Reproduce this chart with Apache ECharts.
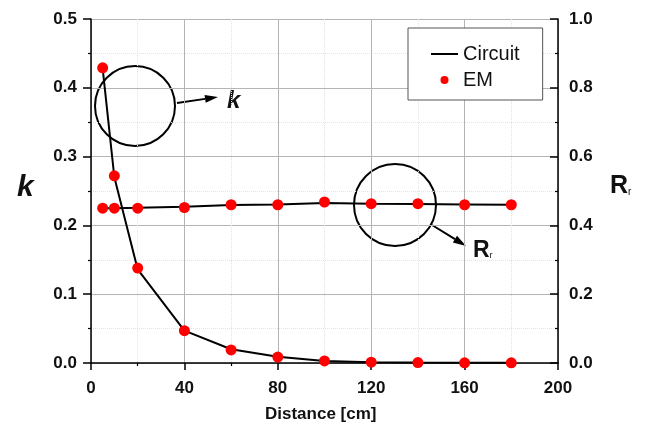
<!DOCTYPE html>
<html>
<head>
<meta charset="utf-8">
<script src="https://cdn.jsdelivr.net/npm/echarts@6/dist/echarts.min.js"></script>
<style>
html, body { margin: 0; padding: 0; background: #fff; }
#chart { width: 645px; height: 432px; }
</style>
</head>
<body>
<div id="chart"></div>
<script>
// distance in cm
var distance = [5, 10, 20, 40, 60, 80, 100, 120, 140, 160, 180];
// coupling coefficient k (left axis)
var kEM = [0.429, 0.272, 0.138, 0.047, 0.019, 0.0087, 0.003, 0.0012, 0.0006, 0.0003, 0.0002];
var kCircuit = [0.428, 0.27, 0.136, 0.047, 0.02, 0.009, 0.003, 0.0012, 0.0006, 0.0003, 0.0002];
// radiation resistance Rr (right axis)
var rrEM = [0.45, 0.45, 0.45, 0.452, 0.46, 0.46, 0.468, 0.463, 0.463, 0.46, 0.46];
var rrCircuit = [0.45, 0.45, 0.451, 0.454, 0.459, 0.461, 0.465, 0.463, 0.462, 0.461, 0.46];

var xTicks = { min: 0, max: 200, step: 40 };
var kTicks = { min: 0, max: 0.5, step: 0.1 };
var rrTicks = { min: 0, max: 1.0, step: 0.2 };

function pairs(xs, ys) {
    var out = [];
    for (var i = 0; i < xs.length; i++) {
        out.push([xs[i], ys[i]]);
    }
    return out;
}

var FONT = '"Liberation Sans", Arial, sans-serif';

function arrow(x1, y1, x2, y2) {
    var ang = Math.atan2(y2 - y1, x2 - x1);
    var len = 13, half = 4;
    var bx = x2 - len * Math.cos(ang), by = y2 - len * Math.sin(ang);
    var px = -Math.sin(ang) * half, py = Math.cos(ang) * half;
    return [
        {
            type: 'line',
            shape: { x1: x1, y1: y1, x2: bx, y2: by },
            style: { stroke: '#000', lineWidth: 2 }
        },
        {
            type: 'polygon',
            shape: { points: [[x2, y2], [bx + px, by + py], [bx - px, by - py]] },
            style: { fill: '#000' }
        }
    ];
}

var myChart = echarts.init(document.getElementById('chart'));

var graphics = [
    { type: 'circle', shape: { cx: 135, cy: 106, r: 40 }, style: { fill: 'none', stroke: '#000', lineWidth: 2 } },
    { type: 'circle', shape: { cx: 395, cy: 205, r: 41 }, style: { fill: 'none', stroke: '#000', lineWidth: 2 } },
    {
        type: 'text', left: 227, top: 89,
        style: { text: 'k', font: 'italic bold 24px ' + FONT, fill: '#111' }
    },
    {
        type: 'text', left: 473, top: 239,
        style: {
            text: '{a|R}{b|r}',
            fill: '#111',
            rich: {
                a: { fontFamily: FONT, fontWeight: 'bold', fontSize: 23, lineHeight: 23, verticalAlign: 'bottom' },
                b: { fontFamily: FONT, fontSize: 9, lineHeight: 23, verticalAlign: 'bottom', padding: [0, 0, 2, 0] }
            }
        }
    },
    {
        type: 'text', left: 17, top: 173,
        style: { text: 'k', font: 'italic bold 30px ' + FONT, fill: '#111' }
    },
    {
        type: 'text', left: 610, top: 174,
        style: {
            text: '{a|R}{b|r}',
            fill: '#111',
            rich: {
                a: { fontFamily: FONT, fontWeight: 'bold', fontSize: 25, lineHeight: 25, verticalAlign: 'bottom' },
                b: { fontFamily: FONT, fontSize: 10, lineHeight: 25, verticalAlign: 'bottom', padding: [0, 0, 2, 0] }
            }
        }
    },
    {
        type: 'text', left: 265, top: 406,
        style: { text: 'Distance [cm]', font: 'bold 17px ' + FONT, fill: '#111' }
    }
].concat(arrow(177, 103, 218, 97)).concat(arrow(432, 225, 466, 246));

var option = {
    backgroundColor: '#fff',
    animation: false,
    grid: { left: 91, right: 87, top: 19, bottom: 69 },
    legend: {
        left: 408,
        top: 28,
        orient: 'vertical',
        itemWidth: 27,
        itemHeight: 8,
        itemGap: 6,
        padding: [16, 23, 10, 23],
        borderColor: '#555',
        borderWidth: 1,
        backgroundColor: '#fff',
        textStyle: { fontFamily: FONT, fontSize: 20, lineHeight: 20, color: '#111' },
        data: [
            { name: 'Circuit', icon: 'path://M0,0h27v2h-27z' },
            { name: 'EM', icon: 'circle' }
        ]
    },
    xAxis: {
        type: 'value',
        min: xTicks.min,
        max: xTicks.max,
        interval: xTicks.step,
        axisLine: { lineStyle: { color: '#000', width: 1.5 } },
        axisTick: { length: 7, lineStyle: { color: '#000', width: 1.5 } },
        minorTick: { show: true, splitNumber: 2, length: 3, lineStyle: { color: '#000', width: 1.2 } },
        splitLine: { show: true, lineStyle: { color: '#b4b4b4', width: 1 } },
        minorSplitLine: { show: true, lineStyle: { color: '#e4e4e4', type: 'dotted', width: 1 } },
        axisLabel: { margin: 17, fontFamily: FONT, fontWeight: 'bold', fontSize: 17, color: '#111' }
    },
    yAxis: [
        {
            type: 'value',
            position: 'left',
            min: kTicks.min,
            max: kTicks.max,
            interval: kTicks.step,
            axisLine: { show: true, lineStyle: { color: '#000', width: 1.5 } },
            axisTick: { show: true, length: 8, lineStyle: { color: '#000', width: 1.5 } },
            minorTick: { show: true, splitNumber: 2, length: 3, lineStyle: { color: '#000', width: 1.2 } },
            splitLine: { show: true, lineStyle: { color: '#b4b4b4', width: 1 } },
            minorSplitLine: { show: true, lineStyle: { color: '#e4e4e4', type: 'dotted', width: 1 } },
            axisLabel: {
                margin: 14, fontFamily: FONT, fontWeight: 'bold', fontSize: 17, color: '#111',
                formatter: function (v) { return v.toFixed(1); }
            }
        },
        {
            type: 'value',
            position: 'right',
            min: rrTicks.min,
            max: rrTicks.max,
            interval: rrTicks.step,
            axisLine: { show: true, lineStyle: { color: '#000', width: 1.5 } },
            axisTick: { show: true, inside: true, length: 8, lineStyle: { color: '#000', width: 1.5 } },
            minorTick: { show: true, splitNumber: 2, length: 3, lineStyle: { color: '#000', width: 1.2 } },
            splitLine: { show: false },
            axisLabel: {
                margin: 11, fontFamily: FONT, fontWeight: 'bold', fontSize: 17, color: '#111',
                formatter: function (v) { return v.toFixed(1); }
            }
        }
    ],
    series: [
        {
            name: 'Circuit', type: 'line', yAxisIndex: 0, symbol: 'none', z: 2,
            lineStyle: { color: '#000', width: 2 }, itemStyle: { color: '#000' },
            data: pairs(distance, kCircuit)
        },
        {
            name: 'Circuit', type: 'line', yAxisIndex: 1, symbol: 'none', z: 2,
            lineStyle: { color: '#000', width: 2 }, itemStyle: { color: '#000' },
            data: pairs(distance, rrCircuit)
        },
        {
            name: 'EM', type: 'scatter', yAxisIndex: 0, symbolSize: 11, z: 3,
            itemStyle: { color: '#ff0000', opacity: 1 },
            data: pairs(distance, kEM)
        },
        {
            name: 'EM', type: 'scatter', yAxisIndex: 1, symbolSize: 11, z: 3,
            itemStyle: { color: '#ff0000', opacity: 1 },
            data: pairs(distance, rrEM)
        }
    ],
    graphic: graphics
};

myChart.setOption(option);
</script>
</body>
</html>
